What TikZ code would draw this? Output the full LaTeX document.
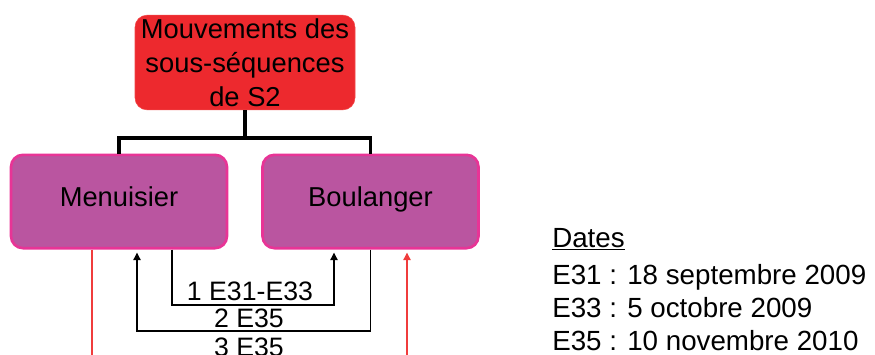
\documentclass[tikz,border=0pt]{standalone}
\usepackage{fontspec}
\setmainfont{Liberation Sans}
\usetikzlibrary{arrows.meta,positioning,calc}
\definecolor{headred}{RGB}{237,41,46}
\definecolor{headborder}{RGB}{242,72,72}
\definecolor{jobfill}{RGB}{186,85,160}
\definecolor{jobborder}{RGB}{232,52,150}
\definecolor{flowred}{RGB}{240,60,60}

\begin{document}
\begin{tikzpicture}[x=0.75pt,y=-0.75pt,
    headbox/.style={draw=headborder, fill=headred, rounded corners=9pt,
      minimum width=165pt, minimum height=71pt, inner sep=0pt, align=center,
      font=\fontsize{20.5}{25.5}\selectfont},
    jobbox/.style={draw=jobborder, fill=jobfill, line width=2pt, rounded corners=9pt,
      minimum width=162pt, minimum height=70pt, text height=0.72em, text depth=0pt,
      font=\fontsize{20.5}{24}\selectfont},
    tree/.style={line width=2.4pt},
    flow/.style={line width=0.8pt, shorten >=2.4pt, -{Triangle[length=5.5pt,width=5.5pt]}},
    redflow/.style={flowred, line width=0.8pt},
    lbl/.style={font=\fontsize{20}{24}\selectfont, inner sep=0pt, anchor=base},
    datetxt/.style={font=\fontsize{20.8}{24}\selectfont, inner sep=0pt, anchor=base west}]
        \clip (0,0) rectangle (875,354);
        \path[use as bounding box] (0,0) rectangle (875,354);
        \node[headbox] (head) at (245,62.5) {Mouvements des\\sous-séquences\\de S2};
        \node[jobbox] (menu) at (119,201.5) {Menuisier};
        \node[jobbox] (boul) at (370.5,201.5) {Boulanger};
        \coordinate (fork) at (245,138);
        \draw[tree] (head.south) -- (fork);
        \draw[tree] (menu.north) |- (fork) -| (boul.north);
        \coordinate (a1) at (172,305);
        \coordinate (b1) at (334,305);
        \coordinate (b2) at (137,331);
        \coordinate (r1) at (92,360);
        \coordinate (r2) at (407,360);
        \draw[flow] (menu.south -| a1) -- (a1) -- (b1) -- (boul.south -| b1);
        \draw[flow] (boul.south) |- (b2) -- (menu.south -| b2);
        \draw[redflow] (menu.south -| r1) -- (r1);
        \draw[redflow, shorten >=2.4pt, -{Triangle[length=5.5pt,width=5.5pt]}] (r2) -- (boul.south -| r2);
        \node[lbl] (l1) at (250,300) {1 E31-E33};
        \node[lbl] (l2) at (249,327) {2 E35};
        \node[lbl] (l3) at (249,356) {3 E35};
        \node[datetxt] (dhead) at (552,247) {\underline{Dates}};
        \node[datetxt] (d31) at (552,284) {E31 : 18 septembre 2009};
        \node[datetxt] (d33) at (552,317) {E33 : 5 octobre 2009};
        \node[datetxt] (d35) at (552,350) {E35 : 10 novembre 2010};
      \end{tikzpicture}
\end{document}
